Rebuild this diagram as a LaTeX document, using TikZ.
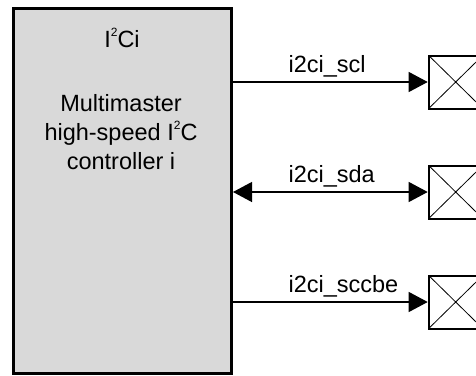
\documentclass[tikz,border=0pt]{standalone}
\usepackage{fontspec}
\setmainfont{Liberation Sans}
\usetikzlibrary{arrows.meta,positioning}

\newcommand{\suptwo}{\raisebox{0.45em}{\fontsize{12}{12}\selectfont 2}}

\tikzset{
    ctrlbox/.style={draw, rectangle, line width=3pt, fill=black!15, minimum width=218pt, minimum height=365pt, inner sep=0pt},
    padbox/.style={draw, rectangle, line width=2pt, minimum width=54pt, minimum height=53pt, inner sep=0pt,
        path picture={\draw[line width=0.8pt] (path picture bounding box.north west) -- (path picture bounding box.south east)
            (path picture bounding box.south west) -- (path picture bounding box.north east);}},
    sigline/.style={line width=1.2pt, -{Triangle[length=19pt,width=20pt]}},
    sigboth/.style={line width=1.2pt, {Triangle[length=19pt,width=20pt]}-{Triangle[length=19pt,width=20pt]}},
    siglabel/.style={pos=0.2825, anchor=base west, yshift=10pt, inner sep=0pt},
    big/.style={font=\fontsize{23.5}{29}\selectfont, inner sep=0pt}
}

\begin{document}
\begin{tikzpicture}[x=1pt, y=-1pt]
    \useasboundingbox (0,0) rectangle (476,375);

    % Controller block
    \node[ctrlbox] (ctrl) at (122.5,191) {};
    \node[big, anchor=base] (title) at (122,47) {I\suptwo Ci};
    \node[big, align=center, anchor=north] (desc) at (121,94) {Multimaster\\high-speed I\suptwo C\\controller i};

    % Pads
    \node[padbox] (scl) at (455.7,82) {};
    \node[padbox] (sda) at (455.7,192) {};
    \node[padbox] (sccbe) at (455.7,302) {};

    % Signals
    \draw[sigline] (ctrl.east |- scl.west) -- node[siglabel, big] {i2ci\_scl} (scl.west);
    \draw[sigboth] (ctrl.east |- sda.west) -- node[siglabel, big] {i2ci\_sda} (sda.west);
    \draw[sigline] (ctrl.east |- sccbe.west) -- node[siglabel, big] {i2ci\_sccbe} (sccbe.west);
\end{tikzpicture}
\end{document}
